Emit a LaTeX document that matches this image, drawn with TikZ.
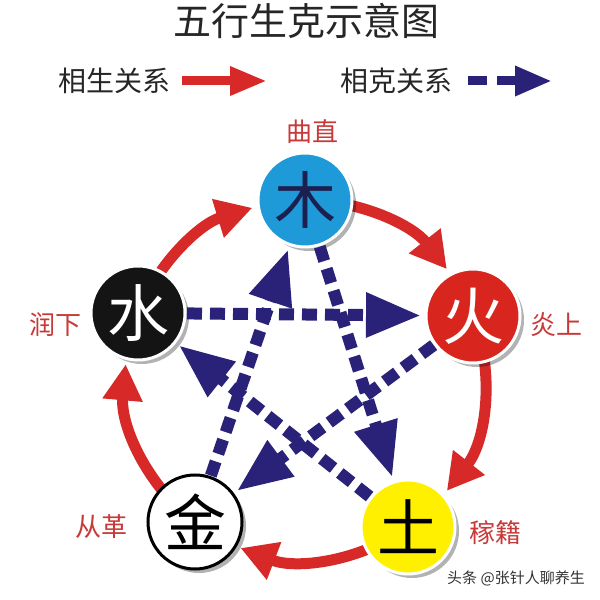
\documentclass[tikz,border=0pt]{standalone}
\usepackage{fontspec}
\setmainfont{Noto Sans CJK SC}
\usetikzlibrary{arrows.meta,shadows}
\definecolor{shengred}{HTML}{D72A28}
\definecolor{keblue}{HTML}{2A2178}
\definecolor{labred}{HTML}{C83A38}
\definecolor{mublue}{HTML}{1E9AD8}
\definecolor{tuyellow}{HTML}{FFF000}
\definecolor{huored}{HTML}{D8261E}
\definecolor{muink}{HTML}{1C2050}
\begin{document}
\begin{tikzpicture}[x=1pt,y=1pt,
  sheng/.style={draw=shengred, line width=11pt, -{Triangle[length=36pt,width=38pt]}},
  ke/.style={draw=keblue, line width=12pt, dash pattern=on 15pt off 8pt,
     -{Triangle[length=55pt,width=42pt]}, shorten <=-3pt},
  elem/.style={circle, minimum size=94pt, inner sep=0pt, line width=3pt, draw=white,
     outer sep=5pt, font=\fontsize{62}{62}\selectfont,
     drop shadow={shadow xshift=4pt, shadow yshift=-4pt, opacity=0.3, fill=black}},
  lab/.style={text=labred, font=\fontsize{26}{26}\selectfont},
  leg/.style={text=black!85, font=\fontsize{28}{28}\selectfont}
]
\useasboundingbox (0,0) rectangle (600,600);
\fill[white] (0,0) rectangle (600,600);

% title and legend
\node[text=black!85, font=\fontsize{38}{38}\selectfont] (title) at (306,579) {五行生克示意图};
\node[leg] (legs) at (114,519) {相生关系};
\node[leg] (legk) at (396,519) {相克关系};
\coordinate (ra) at (182,519); \coordinate (rb) at (267,519);
\draw[draw=shengred, line width=9pt, -{Triangle[length=37pt,width=27pt]}] (ra) -- (rb);
\coordinate (ba) at (468,519); \coordinate (bb) at (552,519);
\draw[draw=keblue, line width=9pt, dash pattern=on 19pt off 10pt, -{Triangle[length=37pt,width=28pt]}] (ba) -- (bb);

% ring of generation
\coordinate (O) at (305,220);
\draw[sheng] ([shift={(90:180)}]O) arc[start angle=90, end angle=38, radius=180];
\draw[sheng] ([shift={(21:180)}]O) arc[start angle=21, end angle=-38, radius=180];
\draw[sheng] ([shift={(-55:180)}]O) arc[start angle=-55, end angle=-111, radius=180];
\draw[sheng] ([shift={(-128:180)}]O) arc[start angle=-128, end angle=-185, radius=180];
\draw[sheng] ([shift={(158:180)}]O) arc[start angle=158, end angle=107, radius=180];

% elements
\node[elem, fill=mublue, text=muink] (mu) at (305,400) {木};
\node[elem, fill=huored, text=white] (huo) at (473,284) {火};
\node[elem, fill=tuyellow, text=black] (tu) at (408,73) {土};
\node[elem, fill=white, draw=black, text=black] (jin) at (195,78) {金};
\node[elem, fill=black!92, text=white] (shui) at (138,287) {水};

% ring of control
\draw[ke] (mu) -- (tu);
\draw[ke] (tu) -- (shui);
\draw[ke] (shui) -- (huo);
\draw[ke] (huo) -- (jin);
\draw[ke] (jin) -- (mu);

% labels
\node[lab] (lmu) at (312,468) {曲直};
\node[lab] (lhuo) at (556,275) {炎上};
\node[lab] (ltu) at (495,67) {稼籍};
\node[lab] (ljin) at (101,73) {从革};
\node[lab] (lshui) at (55,275) {润下};

\node[text=black!80, font=\fontsize{15}{15}\selectfont] (wm) at (516,22) {头条 @张针人聊养生};
\end{tikzpicture}
\end{document}
